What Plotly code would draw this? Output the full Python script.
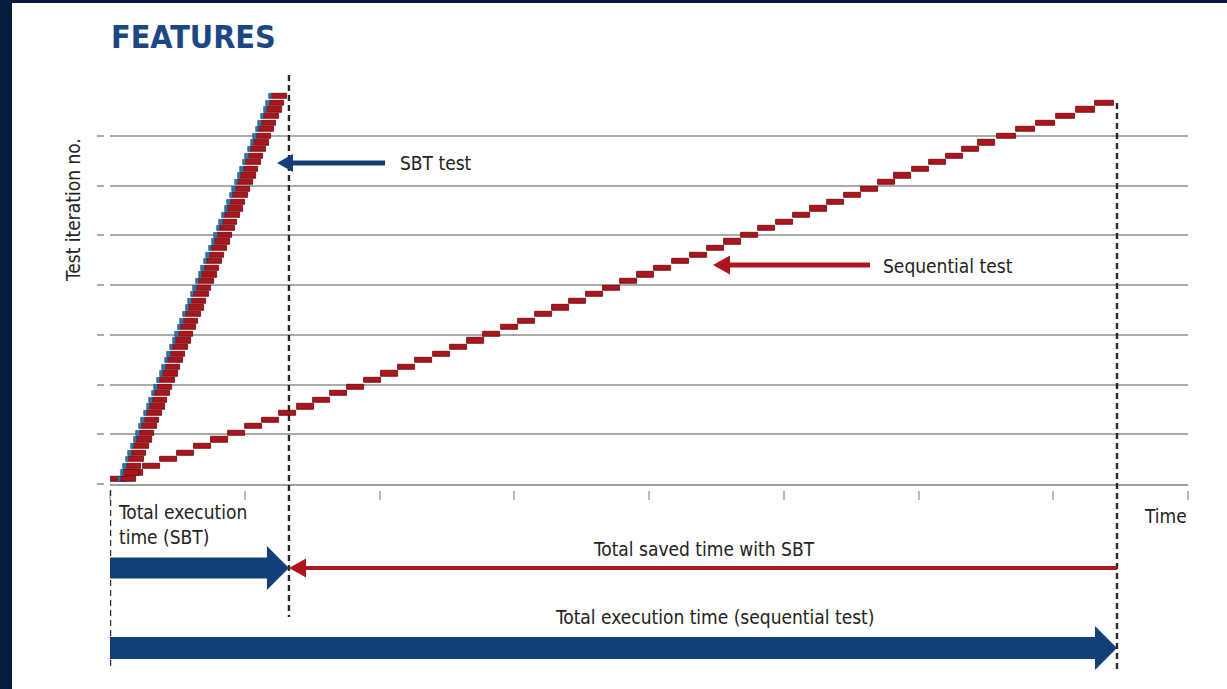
import plotly.graph_objects as go

W, H = 1227, 689

# ---------------- data ----------------
# time axis: unlabeled ticks every 10 units
time_ticks = [0, 10, 20, 30, 40, 50, 60, 70, 80]
# horizontal grid levels (in iteration units)
grid_levels = [0.24, 7.79, 15.33, 22.88, 30.42, 37.97, 45.51, 53.06]

# Sequential test: one run after the other
seq_iter = [1, 2, 3, 4, 5, 6, 7, 8, 9, 10, 11, 12, 13, 14, 15, 16, 17, 18, 19, 20,
            21, 22, 23, 24, 25, 26, 27, 28, 29, 30, 31, 32, 33, 34, 35, 36, 37, 38, 39, 40,
            41, 42, 43, 44, 45, 46, 47, 48, 49, 50, 51, 52, 53, 54, 55, 56, 57, 58]
seq_start = [0.0, 1.19, 2.45, 3.71, 4.97, 6.23, 7.50, 8.76, 10.02, 11.28, 12.54, 13.88,
             15.06, 16.33, 17.59, 18.85, 20.11, 21.37, 22.63, 23.97, 25.23, 26.49, 27.68,
             29.02, 30.28, 31.54, 32.80, 34.06, 35.33, 36.59, 37.85, 39.11, 40.37, 41.71,
             43.04, 44.30, 45.57, 46.83, 48.09, 49.42, 50.69, 51.95, 53.21, 54.47, 55.73,
             56.99, 58.18, 59.52, 60.78, 62.04, 63.23, 64.42, 65.83, 67.24, 68.72, 70.20,
             71.69, 73.10]
seq_dur = [1.24, 1.24, 1.24, 1.24, 1.24, 1.24, 1.24, 1.24, 1.24, 1.24, 1.24, 1.24,
           1.24, 1.24, 1.24, 1.24, 1.24, 1.24, 1.24, 1.24, 1.24, 1.24, 1.24, 1.24,
           1.24, 1.24, 1.24, 1.24, 1.24, 1.24, 1.24, 1.24, 1.24, 1.24, 1.24, 1.24,
           1.24, 1.24, 1.24, 1.24, 1.24, 1.24, 1.24, 1.24, 1.24, 1.24, 1.24, 1.24,
           1.24, 1.24, 1.24, 1.24, 1.39, 1.39, 1.39, 1.39, 1.39, 1.39]

# SBT test: runs started in quick succession
sbt_iter = [1, 2, 3, 4, 5, 6, 7, 8, 9, 10, 11, 12, 13, 14, 15, 16, 17, 18, 19, 20,
            21, 22, 23, 24, 25, 26, 27, 28, 29, 30, 31, 32, 33, 34, 35, 36, 37, 38, 39, 40,
            41, 42, 43, 44, 45, 46, 47, 48, 49, 50, 51, 52, 53, 54, 55, 56, 57, 58, 59]
sbt_start = [0.59, 0.79, 0.98, 1.17, 1.37, 1.56, 1.75, 1.94, 2.14, 2.33, 2.52, 2.72,
             2.91, 3.10, 3.30, 3.49, 3.68, 3.87, 4.07, 4.26, 4.45, 4.65, 4.84, 5.03,
             5.23, 5.42, 5.61, 5.80, 6.00, 6.19, 6.38, 6.58, 6.77, 6.96, 7.16, 7.35,
             7.54, 7.73, 7.93, 8.12, 8.31, 8.51, 8.70, 8.89, 9.09, 9.28, 9.47, 9.66,
             9.86, 10.05, 10.24, 10.44, 10.63, 10.82, 11.02, 11.21, 11.40, 11.59, 11.79]
sbt_setup = 0.25     # short blue segment of every SBT row
sbt_run = 1.08       # red part of every SBT row

sbt_total = 13.28    # total execution time (SBT)
seq_total = 74.73    # total execution time (sequential test)

# ---------------- styling ----------------
NAVY = "#123f78"
RED = "#ad141b"
RED_EDGE = "#62080b"
SBT_BLUE = "#2f78a3"
TXT = "#222222"
GRID = "#aaaaaa"
FONT = "DejaVu Sans Condensed, Liberation Sans Narrow, Arial Narrow, sans-serif"
FS = 19

X_DOM = [110 / W, 1188 / W]
Y_DOM = [1 - 484.3 / H, 1 - 76.7 / H]
X_RANGE = [0, 80]
Y_RANGE = [0.24, 62.0]
px_per_t = (X_DOM[1] - X_DOM[0]) * W / (X_RANGE[1] - X_RANGE[0])
BAR_H = 0.78


def py(p):
    return 1 - p / H


def tx(px):
    """horizontal pixel position -> time units"""
    return (px - X_DOM[0] * W) / px_per_t


fig = go.Figure()

fig.add_trace(go.Bar(orientation="h", y=seq_iter, x=seq_dur, base=seq_start, width=BAR_H,
                     marker=dict(color=RED, line=dict(color=RED_EDGE, width=0.8)),
                     hoverinfo="skip", name="Sequential test"))
fig.add_trace(go.Bar(orientation="h", y=sbt_iter, x=[sbt_run] * len(sbt_iter),
                     base=[s + sbt_setup for s in sbt_start], width=BAR_H,
                     marker=dict(color=RED, line=dict(color=RED_EDGE, width=0.8)),
                     hoverinfo="skip", name="SBT run"))
fig.add_trace(go.Bar(orientation="h", y=sbt_iter, x=[sbt_setup] * len(sbt_iter),
                     base=sbt_start, width=BAR_H,
                     marker=dict(color=SBT_BLUE, line=dict(color="#15406a", width=0.6)),
                     hoverinfo="skip", name="SBT setup"))
# dummy traces that carry the offset tick axes
fig.add_trace(go.Scatter(x=[None], y=[None], xaxis="x2", yaxis="y", showlegend=False, hoverinfo="skip"))
fig.add_trace(go.Scatter(x=[None], y=[None], xaxis="x", yaxis="y2", showlegend=False, hoverinfo="skip"))

shapes = []
# dark frame
shapes.append(dict(type="rect", xref="paper", yref="paper", x0=0, x1=12 / W, y0=0, y1=1,
                   fillcolor="#061c3d", line=dict(width=0), layer="above"))
shapes.append(dict(type="rect", xref="paper", yref="paper", x0=0, x1=1, y0=py(3), y1=1,
                   fillcolor="#061c3d", line=dict(width=0), layer="above"))

# dashed verticals
DASH = dict(color="#262626", width=2.4, dash="6px,4px")
shapes.append(dict(type="line", xref="x", yref="paper", x0=0, x1=0, y0=py(490), y1=py(670), line=DASH))
shapes.append(dict(type="line", xref="x", yref="paper", x0=sbt_total, x1=sbt_total,
                   y0=py(75), y1=py(617), line=DASH))
shapes.append(dict(type="line", xref="x", yref="paper", x0=seq_total, x1=seq_total,
                   y0=py(103), y1=py(670), line=DASH))


def arrow(x_tail, x_tip, yc, shaft, head_len, head_h, color):
    d = 1 if x_tip > x_tail else -1
    xb = x_tip - d * head_len / px_per_t
    pts = [(x_tail, yc - shaft / 2), (xb, yc - shaft / 2), (xb, yc - head_h / 2), (x_tip, yc),
           (xb, yc + head_h / 2), (xb, yc + shaft / 2), (x_tail, yc + shaft / 2)]
    path = "M " + " L ".join(f"{x:.4f},{py(y):.5f}" for x, y in pts) + " Z"
    return dict(type="path", xref="x", yref="paper", path=path, fillcolor=color,
                line=dict(width=0), layer="above")


shapes.append(arrow(tx(385), tx(277), 163, 5, 16, 18, NAVY))
shapes.append(arrow(tx(870), tx(713), 265, 5, 17, 19, RED))
shapes.append(arrow(0, sbt_total, 568, 21, 22, 44, NAVY))
shapes.append(arrow(seq_total, sbt_total, 568, 4, 17, 19, RED))
shapes.append(arrow(0, seq_total, 648, 22, 22, 44, NAVY))

annotations = [
    dict(text="<b>FEATURES</b>", xref="paper", yref="paper", x=109 / W, y=py(37),
         xanchor="left", yanchor="middle", showarrow=False,
         font=dict(family=FONT, size=32, color="#1b4784")),
    dict(text="Test iteration no.", xref="paper", yref="paper", x=73 / W, y=py(210),
         xanchor="center", yanchor="middle", textangle=-90, showarrow=False,
         font=dict(family=FONT, size=FS, color=TXT)),
    dict(text="SBT test", xref="paper", yref="paper", x=398 / W, y=py(163),
         xanchor="left", yanchor="middle", showarrow=False,
         font=dict(family=FONT, size=FS, color=TXT)),
    dict(text="Sequential test", xref="paper", yref="paper", x=881 / W, y=py(266),
         xanchor="left", yanchor="middle", showarrow=False,
         font=dict(family=FONT, size=FS, color=TXT)),
    dict(text="Time", xref="paper", yref="paper", x=1189 / W, y=py(516),
         xanchor="right", yanchor="middle", showarrow=False,
         font=dict(family=FONT, size=FS, color=TXT)),
    dict(text="Total execution<br>time (SBT)", xref="paper", yref="paper", x=116 / W, y=py(524),
         xanchor="left", yanchor="middle", align="left", showarrow=False,
         font=dict(family=FONT, size=FS, color=TXT)),
    dict(text="Total saved time with SBT", xref="paper", yref="paper", x=704 / W, y=py(549),
         xanchor="center", yanchor="middle", showarrow=False,
         font=dict(family=FONT, size=FS, color=TXT)),
    dict(text="Total execution time (sequential test)", xref="paper", yref="paper",
         x=714 / W, y=py(617), xanchor="center", yanchor="middle", showarrow=False,
         font=dict(family=FONT, size=FS, color=TXT)),
]

fig.update_layout(
    width=W, height=H,
    margin=dict(l=0, r=0, t=0, b=0),
    paper_bgcolor="white", plot_bgcolor="white",
    barmode="overlay", bargap=0,
    showlegend=False,
    xaxis=dict(domain=X_DOM, range=X_RANGE, showgrid=False, zeroline=False,
               showline=True, linecolor="#9f9f9f", linewidth=2,
               ticks="", showticklabels=False, fixedrange=True),
    xaxis2=dict(domain=X_DOM, range=X_RANGE, overlaying="x", anchor="free",
                position=py(490), side="bottom", showgrid=False, zeroline=False,
                showline=False, ticks="outside", tickvals=time_ticks, ticklen=9,
                tickwidth=2, tickcolor="#b9b9b9", showticklabels=False, fixedrange=True),
    yaxis=dict(domain=Y_DOM, range=Y_RANGE, tickvals=grid_levels, showgrid=True,
               gridcolor=GRID, gridwidth=1.6, zeroline=False, showline=False,
               ticks="", showticklabels=False, fixedrange=True),
    yaxis2=dict(domain=Y_DOM, range=Y_RANGE, overlaying="y", anchor="free",
                position=104 / W, side="left", showgrid=False, zeroline=False,
                showline=False, ticks="outside", tickvals=grid_levels, ticklen=7,
                tickwidth=1.6, tickcolor=GRID, showticklabels=False, fixedrange=True),
    shapes=shapes,
    annotations=annotations,
)

fig.write_html("out.html", config={"displayModeBar": False},
               post_script="document.body.style.margin='0';document.body.style.overflow='hidden';")
